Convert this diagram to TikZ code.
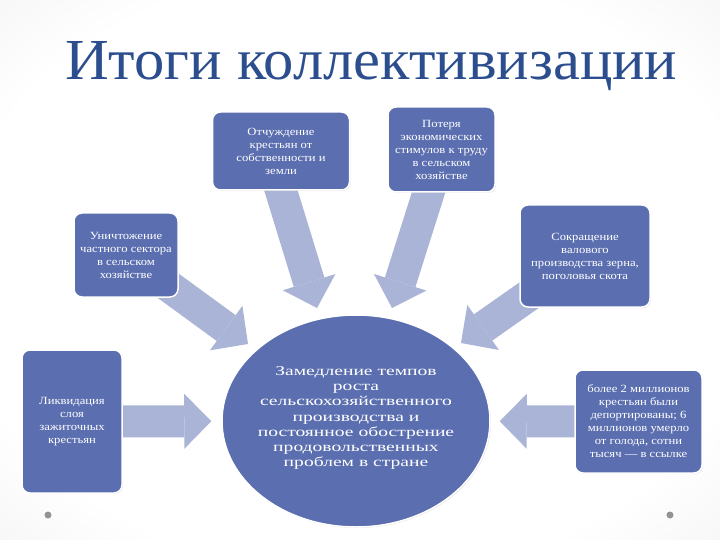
\documentclass[tikz,border=0pt]{standalone}
\usepackage{graphicx}
\usepackage{fontspec}
\setmainfont{Liberation Serif}
\newfontfamily\boxfont[FakeStretch=1.15]{Liberation Serif}
\newfontfamily\ellfont[FakeStretch=1.45]{Liberation Serif}
\usetikzlibrary{arrows.meta,shapes.geometric,shadows}
\definecolor{boxblue}{HTML}{5A6EB0}
\definecolor{arrowblue}{HTML}{AAB4D6}
\definecolor{titleblue}{HTML}{2C4E8E}
\pgfdeclareradialshading{bgshade}{\pgfpoint{0bp}{0bp}}{color(0bp)=(white); color(28bp)=(white); color(45bp)=(black!7); color(60bp)=(black!15); color(75bp)=(black!20)}
\pgfdeclarelayer{bg}
\pgfdeclarelayer{arrowlayer}
\pgfsetlayers{bg,arrowlayer,main}
\begin{document}
\begin{tikzpicture}[x=1pt,y=-1pt,
  box/.style={draw=white, line width=1.5pt, fill=boxblue, rounded corners=8pt,
    text=white, align=center, inner sep=2pt,
    font=\boxfont\fontsize{11}{13}\selectfont,
    drop shadow={shadow xshift=1pt, shadow yshift=-1pt, opacity=0.2}},
  ellbox/.style={ellipse, draw=white, line width=1.5pt, fill=boxblue, inner sep=0pt,
    drop shadow={shadow xshift=1pt, shadow yshift=-1pt, opacity=0.2}},
  elltext/.style={text=white, align=center, inner sep=0pt,
    font=\ellfont\fontsize{13.5}{15.3}\selectfont},
  bigarrow/.style={draw=arrowblue, line width=32pt,
    -{Triangle[width=55pt, length=27pt, line width=0pt]}},
  dot/.style={fill=gray!85}
]
\begin{pgfonlayer}{bg}
\shade[shading=bgshade] (0,0) rectangle (720,540);
\end{pgfonlayer}
\useasboundingbox (0,0) rectangle (720,540);

% title
\node[anchor=base west, inner sep=0pt, text=titleblue] (title) at (65,80)
  {\resizebox{612pt}{38pt}{Итоги коллективизации}};

% boxes
\node[box, minimum width=137pt, minimum height=78pt] (b1) at (281,151)
  {Отчуждение\\крестьян от\\собственности и\\земли};
\node[box, minimum width=107pt, minimum height=85pt] (b2) at (441.5,149.5)
  {Потеря\\экономических\\стимулов к труду\\в сельском\\хозяйстве};
\node[box, minimum width=104pt, minimum height=84pt] (b3) at (126,255)
  {Уничтожение\\частного сектора\\в сельском\\хозяйстве};
\node[box, minimum width=130pt, minimum height=102pt] (b4) at (585,256)
  {Сокращение\\валового\\производства зерна,\\поголовья скота};
\node[box, minimum width=100pt, minimum height=143pt] (b5) at (72,421.5)
  {Ликвидация\\слоя\\зажиточных\\крестьян};
\node[box, minimum width=127pt, minimum height=103pt] (b6) at (638.5,421.5)
  {более 2 миллионов\\крестьян были\\депортированы; 6\\миллионов умерло\\от голода, сотни\\тысяч — в ссылке};

% centre ellipse
\node[ellbox, minimum width=268pt, minimum height=212pt] (c) at (356,421) {};
\node[elltext] (ctext) at (356,418)
  {Замедление темпов\\роста\\сельскохозяйственного\\производства и\\постоянное обострение\\продовольственных\\проблем в стране};

% arrow tips
\coordinate (t1) at (317,308);
\coordinate (t2) at (392,308);
\coordinate (t3) at (248,344);
\coordinate (t4) at (461,343);

\begin{pgfonlayer}{arrowlayer}
\draw[bigarrow, shorten <=-14pt] (b1.south) -- (t1);
\draw[bigarrow, shorten <=-14pt] ([xshift=-13pt]b2.south) -- (t2);
\draw[bigarrow, shorten <=-30pt] (b3) -- (t3);
\draw[bigarrow, shorten <=-30pt] (b4) -- (t4);
\draw[bigarrow, shorten <=-6pt, shorten >=10pt] (b5) -- (c);
\draw[bigarrow, shorten <=-6pt, shorten >=9pt] (b6) -- (c);
\end{pgfonlayer}

% dots
\fill[dot] (48,515) circle (3.5pt);
\fill[dot] (670,515) circle (3.5pt);
\end{tikzpicture}
\end{document}
